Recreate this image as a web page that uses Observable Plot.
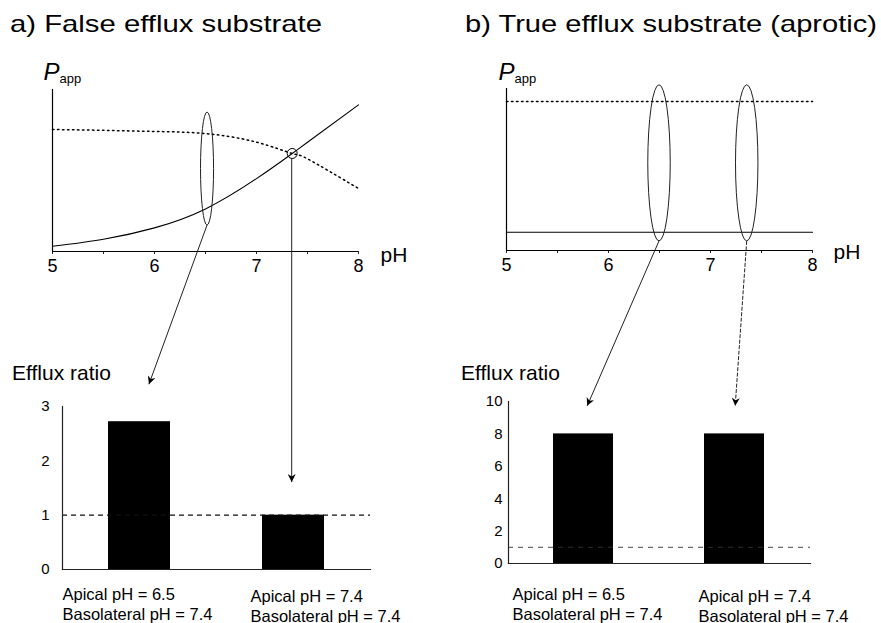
<!DOCTYPE html>
<html><head><meta charset="utf-8">
<script src="https://cdn.jsdelivr.net/npm/d3@7"></script>
<script src="https://cdn.jsdelivr.net/npm/@observablehq/plot@0.6"></script>
<style>
body{margin:0;background:#fff;}
#fig{position:relative;width:881px;height:623px;overflow:hidden;background:#fff;font-family:"Liberation Sans",Arial,sans-serif;}
.panel{position:absolute;}
.panel svg{overflow:visible;max-width:none;}
#annot{position:absolute;left:0;top:0;pointer-events:none;overflow:visible;}
</style></head><body><div id="fig"></div>
<script>
// ---------- data ----------
const pHValues = [5, 5.5, 6, 6.5, 7, 7.35, 7.5, 8];
const pappSolidA = [0.032, 0.076, 0.146, 0.263, 0.45, 0.605, 0.674, 0.905];
const pappDottedA = [0.753, 0.748, 0.741, 0.728, 0.675, 0.605, 0.572, 0.389];
const pHRangeB = [5, 8];
const pappDottedB = [0.92, 0.92];
const pappSolidB = [0.113, 0.113];
const crossing = [{pH: 7.35, papp: 0.605}];
const pHMajorTicks = [5, 6, 7, 8];
const pHMinorTicks = [5.5, 6.5, 7.5];
const conditions = ["Apical pH = 6.5\nBasolateral pH = 7.4", "Apical pH = 7.4\nBasolateral pH = 7.4"];
const effluxA = [2.72, 1.0];
const effluxB = [8.0, 8.0];
const effluxTicksA = [0, 1, 2, 3];
const effluxTicksB = [0, 2, 4, 6, 8, 10];
const unityRatio = 1;
const titleA = "a) False efflux substrate";
const titleB = "b) True efflux substrate (aprotic)";
const yTitle = "Efflux ratio";

// ---------- tables ----------
const curveA = pHValues.map((p, i) => ({pH: p, solid: pappSolidA[i], dotted: pappDottedA[i]}));
const curveB = pHRangeB.map((p, i) => ({pH: p, solid: pappSolidB[i], dotted: pappDottedB[i]}));
const barsA = conditions.map((c, i) => ({cond: c, ratio: effluxA[i]}));
const barsB = conditions.map((c, i) => ({cond: c, ratio: effluxB[i]}));

const FONT = '"Liberation Sans", Arial, sans-serif';
const fig = document.getElementById("fig");

function place(plot, left, top, w) {
  const d = document.createElement("div");
  d.className = "panel";
  d.style.left = left + "px"; d.style.top = top + "px"; d.style.width = w + "px";
  d.appendChild(plot); fig.appendChild(d);
  return {plot, left, top};
}

function topPanel(rows, {w, ml, mr, mt, mb, pdx, pdy, phdx, phdy, extra}) {
  return Plot.plot({
    width: w, height: 230, marginLeft: ml, marginRight: mr, marginTop: mt, marginBottom: mb,
    style: {fontFamily: FONT, color: "black", background: "transparent", overflow: "visible"},
    x: {domain: [5, 8]},
    y: {domain: [0, 1], axis: null},
    marks: [
      Plot.axisX({ticks: [...pHMajorTicks, ...pHMinorTicks], tickSize: 3, tickPadding: 5,
        tickFormat: d => pHMajorTicks.includes(d) ? String(d) : "", label: null, fontSize: 18, stroke: "#222"}),
      Plot.ruleY([0], {stroke: "black", strokeWidth: 1.2}),
      Plot.ruleX([5], {stroke: "black", strokeWidth: 1.2}),
      Plot.line(rows, {x: "pH", y: "dotted", stroke: "black", strokeWidth: 1.5, strokeDasharray: "1.5,3.5", curve: "natural"}),
      Plot.line(rows, {x: "pH", y: "solid", stroke: "black", strokeWidth: 1.1, curve: "natural"}),
      ...extra,
      Plot.text(["P"], {frameAnchor: "top-left", dx: pdx, dy: pdy, textAnchor: "start", lineAnchor: "bottom", fontSize: 24, fontStyle: "italic", fill: "black"}),
      Plot.text(["app"], {frameAnchor: "top-left", dx: pdx + 16, dy: pdy + 3, textAnchor: "start", lineAnchor: "bottom", fontSize: 13, fill: "black"}),
      Plot.text(["pH"], {frameAnchor: "bottom-right", dx: phdx, dy: phdy, textAnchor: "start", lineAnchor: "middle", fontSize: 21, fill: "black"})
    ]
  });
}

function barPanel(rows, ticks, {w, ml, mr, mt, mb, yMax, pad, labelDx, labelDy, dash, dashW, dashStroke}) {
  return Plot.plot({
    width: w, height: 228, marginLeft: ml, marginRight: mr, marginTop: mt, marginBottom: mb,
    style: {fontFamily: FONT, color: "black", background: "transparent", overflow: "visible"},
    x: {domain: conditions, paddingInner: 0.6, paddingOuter: 0.3, axis: null},
    y: {domain: [0, yMax]},
    marks: [
      Plot.axisY({ticks, tickSize: 0, tickPadding: pad, tickFormat: "d", fontSize: 15, label: null}),
      Plot.barY(rows, {x: "cond", y: "ratio", fill: "black"}),
      Plot.ruleY([unityRatio], {stroke: dashStroke, strokeWidth: dashW, strokeDasharray: dash}),
      Plot.frame({anchor: "left", stroke: "#222", strokeWidth: 1.2}),
      Plot.frame({anchor: "bottom", stroke: "#222", strokeWidth: 1.2}),
      ...rows.map((r, i) => Plot.text([r], {x: "cond", text: "cond", frameAnchor: "bottom", textAnchor: "start",
        lineAnchor: "bottom", dx: labelDx[i], dy: labelDy[i], fontSize: 16.5, lineHeight: 1.21, fill: "black"}))
    ]
  });
}

const pTopA = place(topPanel(curveA, {w: 420, ml: 52, mr: 62, mt: 29, mb: 39, pdx: -9, pdy: -10, phdx: 22, phdy: 4,
  extra: [Plot.dot(crossing, {x: "pH", y: "papp", r: 5, stroke: "black", fill: "none", strokeWidth: 1})]}), 0, 60, 420);
const pTopB = place(topPanel(curveB, {w: 441, ml: 66, mr: 69, mt: 28, mb: 40, pdx: -8, pdy: -9, phdx: 21, phdy: 2, extra: []}), 440, 60, 441);
const pBarA = place(barPanel(barsA, effluxTicksA, {w: 430, ml: 62, mr: 60, mt: 11, mb: 54, yMax: 3, pad: 13,
  labelDx: [-77, -43], labelDy: [50, 52], dash: "5,4", dashW: 1.3, dashStroke: "#111"}), 0, 395, 430);
const pBarB = place(barPanel(barsB, effluxTicksB, {w: 441, ml: 68, mr: 71, mt: 6, mb: 60, yMax: 10, pad: 6,
  labelDx: [-71, -36], labelDy: [56, 58], dash: "5,5", dashW: 0.9, dashStroke: "#333"}), 440, 395, 441);

// ---------- scale helpers (positions from Plot's own scales) ----------
function scaleOf(p, name) {
  const s = p.plot.scale(name);
  let f, bw = 0;
  if (s.type === "band") {
    const b = d3.scaleBand().domain(s.domain).range(s.range).paddingInner(s.paddingInner).paddingOuter(s.paddingOuter).align(s.align ?? 0.5);
    f = typeof s.apply === "function" ? v => s.apply(v) : b;
    bw = s.bandwidth ?? b.bandwidth();
  } else {
    const l = d3.scaleLinear().domain(s.domain).range(s.range);
    f = typeof s.apply === "function" ? v => s.apply(v) : l;
  }
  const off = name === "x" ? p.left : p.top;
  const g = v => f(v) + off;
  g.bandwidth = bw;
  return g;
}
const xA = scaleOf(pTopA, "x"), yA = scaleOf(pTopA, "y");
const xB = scaleOf(pTopB, "x"), yB = scaleOf(pTopB, "y");
const bxA = scaleOf(pBarA, "x"), byA = scaleOf(pBarA, "y");
const bxB = scaleOf(pBarB, "x"), byB = scaleOf(pBarB, "y");

// ---------- annotations (ellipses, arrows, titles) ----------
const svg = d3.select(fig).append("svg").attr("id", "annot").attr("width", 881).attr("height", 623)
  .style("font-family", FONT);
svg.append("defs").append("marker").attr("id", "ah").attr("viewBox", "0 0 10 10")
  .attr("refX", 10).attr("refY", 5).attr("markerWidth", 10).attr("markerHeight", 8)
  .attr("markerUnits", "userSpaceOnUse").attr("orient", "auto")
  .append("path").attr("d", "M0,0 L10,5 L0,10 L3,5 Z").attr("fill", "black");

function ellipse(xs, ys, pH, lo, hi, halfW) {
  svg.append("ellipse")
    .attr("cx", xs(pH)).attr("cy", (ys(lo) + ys(hi)) / 2)
    .attr("rx", xs(pH + halfW) - xs(pH)).attr("ry", Math.abs(ys(lo) - ys(hi)) / 2)
    .attr("fill", "none").attr("stroke", "#222").attr("stroke-width", 1);
}
ellipse(xA, yA, 6.52, 0.16, 0.858, 0.064);
ellipse(xB, yB, 6.5, 0.056, 1.02, 0.11);
ellipse(xB, yB, 7.36, 0.056, 1.02, 0.11);

function arrow(x1, y1, x2, y2, dash) {
  const l = svg.append("line").attr("x1", x1).attr("y1", y1).attr("x2", x2).attr("y2", y2)
    .attr("stroke", "#222").attr("stroke-width", 1).attr("marker-end", "url(#ah)");
  if (dash) l.attr("stroke-dasharray", dash);
}
arrow(xA(6.52), yA(0.16), bxA(conditions[0]) + 0.66 * bxA.bandwidth, byA(3.4));
arrow(xA(crossing[0].pH), yA(crossing[0].papp) + 5, xA(crossing[0].pH), byA(1.6));
arrow(xB(6.5), yB(0.056), bxB(conditions[0]) + 0.57 * bxB.bandwidth, byB(9.7));
arrow(xB(7.36), yB(0.056), bxB(conditions[1]) + 0.52 * bxB.bandwidth, byB(9.7), "4,1.5");

svg.append("text").attr("x", 10).attr("y", 31.5).attr("font-size", 24).attr("textLength", 312)
  .attr("lengthAdjust", "spacingAndGlyphs").attr("fill", "black").text(titleA);
svg.append("text").attr("x", 465).attr("y", 31.5).attr("font-size", 24).attr("textLength", 412)
  .attr("lengthAdjust", "spacingAndGlyphs").attr("fill", "black").text(titleB);
svg.append("text").attr("x", 12).attr("y", 380).attr("font-size", 21).attr("fill", "black").text(yTitle);
svg.append("text").attr("x", 461).attr("y", 380).attr("font-size", 21).attr("fill", "black").text(yTitle);
</script></body></html>
